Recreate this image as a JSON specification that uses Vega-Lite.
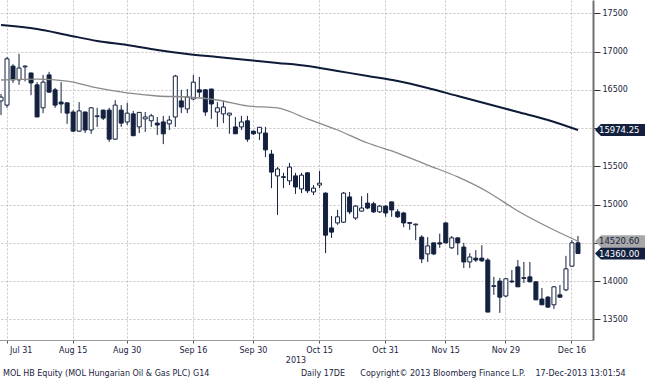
{
  "$schema": "https://vega.github.io/schema/vega-lite/v6.json",
  "width": 593,
  "height": 340,
  "autosize": {"type": "none"},
  "padding": {"left": 0, "top": 0, "right": 52, "bottom": 40},
  "background": "white",
  "config": {"view": {"stroke": null}},
  "title": {
    "text": "MOL HB Equity (MOL Hungarian Oil & Gas PLC) G14\u00a0\u00a0\u00a0\u00a0\u00a0\u00a0\u00a0\u00a0\u00a0\u00a0\u00a0\u00a0\u00a0\u00a0\u00a0\u00a0\u00a0\u00a0\u00a0\u00a0\u00a0\u00a0\u00a0\u00a0\u00a0\u00a0\u00a0\u00a0\u00a0\u00a0\u00a0\u00a0\u00a0\u00a0\u00a0\u00a0Daily 17DE\u00a0\u00a0\u00a0\u00a0\u00a0\u00a0Copyright\u00a9 2013 Bloomberg Finance L.P.\u00a0\u00a0\u00a0\u00a017-Dec-2013 13:01:54",
    "orient": "bottom",
    "anchor": "start",
    "font": "DejaVu Sans",
    "fontSize": 8,
    "fontWeight": "normal",
    "color": "#1a2440",
    "offset": 6,
    "dx": 3
  },
  "datasets": {
    "px": [
      {"d": "2013-07-30", "o": 16355, "h": 16445, "l": 16170, "c": 16405},
      {"d": "2013-07-31", "o": 16300, "h": 16930, "l": 16265, "c": 16905},
      {"d": "2013-08-01", "o": 16810, "h": 16835, "l": 16590, "c": 16630},
      {"d": "2013-08-02", "o": 16630, "h": 16970, "l": 16565, "c": 16785},
      {"d": "2013-08-05", "o": 16800, "h": 16820, "l": 16610, "c": 16810},
      {"d": "2013-08-06", "o": 16720, "h": 16725, "l": 16430, "c": 16590},
      {"d": "2013-08-07", "o": 16565, "h": 16600, "l": 16145, "c": 16145},
      {"d": "2013-08-08", "o": 16265, "h": 16695, "l": 16195, "c": 16600},
      {"d": "2013-08-09", "o": 16695, "h": 16735, "l": 16460, "c": 16470},
      {"d": "2013-08-12", "o": 16500, "h": 16525, "l": 16265, "c": 16300},
      {"d": "2013-08-13", "o": 16340, "h": 16600, "l": 16195, "c": 16315},
      {"d": "2013-08-14", "o": 16330, "h": 16330, "l": 16055, "c": 16195},
      {"d": "2013-08-15", "o": 16210, "h": 16235, "l": 15950, "c": 15960},
      {"d": "2013-08-16", "o": 15960, "h": 16340, "l": 15950, "c": 16225},
      {"d": "2013-08-21", "o": 16210, "h": 16215, "l": 15935, "c": 15975},
      {"d": "2013-08-22", "o": 15975, "h": 16275, "l": 15925, "c": 16265},
      {"d": "2013-08-23", "o": 16150, "h": 16265, "l": 16015, "c": 16160},
      {"d": "2013-08-26", "o": 16235, "h": 16240, "l": 16105, "c": 16130},
      {"d": "2013-08-27", "o": 16235, "h": 16265, "l": 15820, "c": 15855},
      {"d": "2013-08-28", "o": 15855, "h": 16365, "l": 15845, "c": 16300},
      {"d": "2013-08-29", "o": 16235, "h": 16300, "l": 16015, "c": 16065},
      {"d": "2013-08-30", "o": 16080, "h": 16330, "l": 16040, "c": 16195},
      {"d": "2013-09-02", "o": 16185, "h": 16225, "l": 15895, "c": 15900},
      {"d": "2013-09-03", "o": 16015, "h": 16210, "l": 15935, "c": 16205},
      {"d": "2013-09-04", "o": 16120, "h": 16210, "l": 15950, "c": 16145},
      {"d": "2013-09-05", "o": 16095, "h": 16185, "l": 16015, "c": 16160},
      {"d": "2013-09-06", "o": 16065, "h": 16145, "l": 15910, "c": 16040},
      {"d": "2013-09-09", "o": 16080, "h": 16160, "l": 15790, "c": 15925},
      {"d": "2013-09-10", "o": 16055, "h": 16160, "l": 15975, "c": 16105},
      {"d": "2013-09-11", "o": 16145, "h": 16695, "l": 16015, "c": 16680},
      {"d": "2013-09-12", "o": 16355, "h": 16500, "l": 16195, "c": 16275},
      {"d": "2013-09-13", "o": 16250, "h": 16510, "l": 16195, "c": 16405},
      {"d": "2013-09-16", "o": 16380, "h": 16695, "l": 16365, "c": 16600},
      {"d": "2013-09-17", "o": 16500, "h": 16670, "l": 16405, "c": 16470},
      {"d": "2013-09-18", "o": 16500, "h": 16510, "l": 16160, "c": 16210},
      {"d": "2013-09-19", "o": 16510, "h": 16515, "l": 16120, "c": 16315},
      {"d": "2013-09-20", "o": 16210, "h": 16340, "l": 16015, "c": 16265},
      {"d": "2013-09-23", "o": 16185, "h": 16355, "l": 16065, "c": 16275},
      {"d": "2013-09-24", "o": 16170, "h": 16200, "l": 15925, "c": 16195},
      {"d": "2013-09-25", "o": 16015, "h": 16145, "l": 15925, "c": 15925},
      {"d": "2013-09-26", "o": 16015, "h": 16160, "l": 15975, "c": 16080},
      {"d": "2013-09-27", "o": 16095, "h": 16160, "l": 15820, "c": 15855},
      {"d": "2013-09-30", "o": 15960, "h": 15965, "l": 15910, "c": 15925},
      {"d": "2013-10-01", "o": 15935, "h": 16015, "l": 15845, "c": 16010},
      {"d": "2013-10-02", "o": 15935, "h": 16015, "l": 15620, "c": 15715},
      {"d": "2013-10-03", "o": 15660, "h": 15715, "l": 15215, "c": 15425},
      {"d": "2013-10-04", "o": 15375, "h": 15490, "l": 14865, "c": 15465},
      {"d": "2013-10-07", "o": 15355, "h": 15415, "l": 15215, "c": 15365},
      {"d": "2013-10-08", "o": 15310, "h": 15545, "l": 15255, "c": 15490},
      {"d": "2013-10-09", "o": 15375, "h": 15415, "l": 15140, "c": 15230},
      {"d": "2013-10-10", "o": 15205, "h": 15415, "l": 15150, "c": 15385},
      {"d": "2013-10-11", "o": 15415, "h": 15425, "l": 15150, "c": 15180},
      {"d": "2013-10-14", "o": 15165, "h": 15255, "l": 15125, "c": 15215},
      {"d": "2013-10-15", "o": 15255, "h": 15440, "l": 15215, "c": 15280},
      {"d": "2013-10-16", "o": 15150, "h": 15160, "l": 14365, "c": 14600},
      {"d": "2013-10-17", "o": 14695, "h": 14850, "l": 14565, "c": 14640},
      {"d": "2013-10-18", "o": 14760, "h": 14930, "l": 14735, "c": 14840},
      {"d": "2013-10-21", "o": 14770, "h": 15165, "l": 14760, "c": 15150},
      {"d": "2013-10-22", "o": 15100, "h": 15165, "l": 14875, "c": 14905},
      {"d": "2013-10-24", "o": 14825, "h": 14995, "l": 14800, "c": 14980},
      {"d": "2013-10-25", "o": 14915, "h": 15110, "l": 14910, "c": 14955},
      {"d": "2013-10-28", "o": 15020, "h": 15150, "l": 14940, "c": 14955},
      {"d": "2013-10-29", "o": 15010, "h": 15035, "l": 14890, "c": 14905},
      {"d": "2013-10-30", "o": 14905, "h": 14995, "l": 14890, "c": 14980},
      {"d": "2013-10-31", "o": 14980, "h": 14990, "l": 14840, "c": 14890},
      {"d": "2013-11-04", "o": 15035, "h": 15040, "l": 14840, "c": 14930},
      {"d": "2013-11-05", "o": 14905, "h": 14940, "l": 14825, "c": 14840},
      {"d": "2013-11-06", "o": 14890, "h": 14905, "l": 14705, "c": 14760},
      {"d": "2013-11-07", "o": 14765, "h": 14770, "l": 14670, "c": 14755},
      {"d": "2013-11-08", "o": 14735, "h": 14750, "l": 14535, "c": 14745},
      {"d": "2013-11-11", "o": 14575, "h": 14600, "l": 14235, "c": 14290},
      {"d": "2013-11-12", "o": 14355, "h": 14575, "l": 14250, "c": 14460},
      {"d": "2013-11-13", "o": 14500, "h": 14500, "l": 14340, "c": 14355},
      {"d": "2013-11-14", "o": 14500, "h": 14620, "l": 14435, "c": 14485},
      {"d": "2013-11-15", "o": 14760, "h": 14765, "l": 14490, "c": 14500},
      {"d": "2013-11-18", "o": 14435, "h": 14590, "l": 14420, "c": 14565},
      {"d": "2013-11-19", "o": 14565, "h": 14570, "l": 14340, "c": 14500},
      {"d": "2013-11-20", "o": 14445, "h": 14500, "l": 14170, "c": 14250},
      {"d": "2013-11-21", "o": 14250, "h": 14365, "l": 14170, "c": 14315},
      {"d": "2013-11-22", "o": 14300, "h": 14405, "l": 14250, "c": 14275},
      {"d": "2013-11-25", "o": 14300, "h": 14470, "l": 14250, "c": 14265},
      {"d": "2013-11-26", "o": 14275, "h": 14300, "l": 13595, "c": 13595},
      {"d": "2013-11-27", "o": 13930, "h": 14055, "l": 13820, "c": 13940},
      {"d": "2013-11-28", "o": 14000, "h": 14040, "l": 13585, "c": 13790},
      {"d": "2013-11-29", "o": 13805, "h": 14040, "l": 13790, "c": 14030},
      {"d": "2013-12-02", "o": 14000, "h": 14145, "l": 13975, "c": 13990},
      {"d": "2013-12-03", "o": 14185, "h": 14275, "l": 13925, "c": 13925},
      {"d": "2013-12-04", "o": 14035, "h": 14250, "l": 13975, "c": 14045},
      {"d": "2013-12-05", "o": 14055, "h": 14250, "l": 13990, "c": 13990},
      {"d": "2013-12-06", "o": 13990, "h": 13995, "l": 13755, "c": 13755},
      {"d": "2013-12-09", "o": 13765, "h": 13910, "l": 13690, "c": 13690},
      {"d": "2013-12-10", "o": 13790, "h": 13805, "l": 13650, "c": 13660},
      {"d": "2013-12-11", "o": 13690, "h": 13935, "l": 13635, "c": 13925},
      {"d": "2013-12-12", "o": 13820, "h": 13950, "l": 13780, "c": 13790},
      {"d": "2013-12-13", "o": 13885, "h": 14330, "l": 13870, "c": 14160},
      {"d": "2013-12-16", "o": 14195, "h": 14535, "l": 14185, "c": 14500},
      {"d": "2013-12-17", "o": 14500, "h": 14590, "l": 14360, "c": 14360}
    ],
    "ma": [
      {"d": "2013-07-30", "s": "ma200", "v": 17347},
      {"d": "2013-08-07", "s": "ma200", "v": 17295},
      {"d": "2013-08-14", "s": "ma200", "v": 17217},
      {"d": "2013-08-23", "s": "ma200", "v": 17138},
      {"d": "2013-08-30", "s": "ma200", "v": 17086},
      {"d": "2013-09-06", "s": "ma200", "v": 17021},
      {"d": "2013-09-13", "s": "ma200", "v": 16968},
      {"d": "2013-09-20", "s": "ma200", "v": 16929},
      {"d": "2013-09-27", "s": "ma200", "v": 16890},
      {"d": "2013-10-04", "s": "ma200", "v": 16851},
      {"d": "2013-10-11", "s": "ma200", "v": 16811},
      {"d": "2013-10-18", "s": "ma200", "v": 16746},
      {"d": "2013-10-28", "s": "ma200", "v": 16681},
      {"d": "2013-11-05", "s": "ma200", "v": 16615},
      {"d": "2013-11-12", "s": "ma200", "v": 16524},
      {"d": "2013-11-19", "s": "ma200", "v": 16419},
      {"d": "2013-11-26", "s": "ma200", "v": 16315},
      {"d": "2013-12-03", "s": "ma200", "v": 16210},
      {"d": "2013-12-10", "s": "ma200", "v": 16106},
      {"d": "2013-12-17", "s": "ma200", "v": 15974.25},
      {"d": "2013-07-30", "s": "ma50", "v": 16628},
      {"d": "2013-08-07", "s": "ma50", "v": 16641},
      {"d": "2013-08-14", "s": "ma50", "v": 16615},
      {"d": "2013-08-23", "s": "ma50", "v": 16524},
      {"d": "2013-08-30", "s": "ma50", "v": 16459},
      {"d": "2013-09-06", "s": "ma50", "v": 16419},
      {"d": "2013-09-13", "s": "ma50", "v": 16406},
      {"d": "2013-09-20", "s": "ma50", "v": 16367},
      {"d": "2013-09-27", "s": "ma50", "v": 16289},
      {"d": "2013-10-04", "s": "ma50", "v": 16263},
      {"d": "2013-10-11", "s": "ma50", "v": 16119},
      {"d": "2013-10-18", "s": "ma50", "v": 15975},
      {"d": "2013-10-28", "s": "ma50", "v": 15805},
      {"d": "2013-11-05", "s": "ma50", "v": 15674},
      {"d": "2013-11-12", "s": "ma50", "v": 15517},
      {"d": "2013-11-19", "s": "ma50", "v": 15361},
      {"d": "2013-11-26", "s": "ma50", "v": 15165},
      {"d": "2013-12-03", "s": "ma50", "v": 14916},
      {"d": "2013-12-10", "s": "ma50", "v": 14707},
      {"d": "2013-12-17", "s": "ma50", "v": 14520.6}
    ],
    "tags": [
      {"d": "2013-12-17", "k": "ma200", "v": 15974.25, "t": "15974.25"},
      {"d": "2013-12-17", "k": "ma50", "v": 14520.6, "t": "14520.60"},
      {"d": "2013-12-17", "k": "px", "v": 14360, "t": "14360.00"}
    ]
  },
  "encoding": {
    "x": {
      "field": "d",
      "type": "ordinal",
      "scale": {
        "type": "band",
        "paddingInner": 0,
        "paddingOuter": 0,
        "range": [-2, 593],
        "domain": ["2013-07-30","2013-07-31","2013-08-01","2013-08-02","2013-08-05","2013-08-06","2013-08-07","2013-08-08","2013-08-09","2013-08-12","2013-08-13","2013-08-14","2013-08-15","2013-08-16","2013-08-21","2013-08-22","2013-08-23","2013-08-26","2013-08-27","2013-08-28","2013-08-29","2013-08-30","2013-09-02","2013-09-03","2013-09-04","2013-09-05","2013-09-06","2013-09-09","2013-09-10","2013-09-11","2013-09-12","2013-09-13","2013-09-16","2013-09-17","2013-09-18","2013-09-19","2013-09-20","2013-09-23","2013-09-24","2013-09-25","2013-09-26","2013-09-27","2013-09-30","2013-10-01","2013-10-02","2013-10-03","2013-10-04","2013-10-07","2013-10-08","2013-10-09","2013-10-10","2013-10-11","2013-10-14","2013-10-15","2013-10-16","2013-10-17","2013-10-18","2013-10-21","2013-10-22","2013-10-24","2013-10-25","2013-10-28","2013-10-29","2013-10-30","2013-10-31","2013-11-04","2013-11-05","2013-11-06","2013-11-07","2013-11-08","2013-11-11","2013-11-12","2013-11-13","2013-11-14","2013-11-15","2013-11-18","2013-11-19","2013-11-20","2013-11-21","2013-11-22","2013-11-25","2013-11-26","2013-11-27","2013-11-28","2013-11-29","2013-12-02","2013-12-03","2013-12-04","2013-12-05","2013-12-06","2013-12-09","2013-12-10","2013-12-11","2013-12-12","2013-12-13","2013-12-16","2013-12-17","2013-12-18","2013-12-19"]
      },
      "axis": {
        "values": ["2013-07-31","2013-08-15","2013-08-30","2013-09-16","2013-09-30","2013-10-15","2013-10-31","2013-11-15","2013-11-29","2013-12-16"],
        "labelExpr": "utcFormat(toDate(datum.value), '%b %d')",
        "title": "2013",
        "titleFont": "DejaVu Sans",
        "titleFontSize": 8,
        "titleFontWeight": "normal",
        "titleColor": "#1a2440",
        "titlePadding": 2,
        "labelFont": "DejaVu Sans",
        "labelFontSize": 8,
        "labelColor": "#1a2440",
        "labelAngle": 0,
        "labelPadding": 3,
        "labelFlush": 12,
        "labelFlushOffset": -3,
        "grid": true,
        "gridColor": "#c4c4c4",
        "gridDash": [2, 2],
        "gridWidth": 1,
        "domain": true,
        "domainColor": "#9a9a9a",
        "domainWidth": 1,
        "ticks": true,
        "tickSize": 3,
        "tickColor": "#555555"
      }
    }
  },
  "layer": [
    {
      "data": {"name": "px"},
      "mark": {"type": "rule", "color": "#13213f", "strokeWidth": 1, "clip": true},
      "encoding": {
        "y": {
          "field": "l",
          "type": "quantitative",
          "scale": {"domain": [13230, 17674], "nice": false, "zero": false},
          "axis": {
            "orient": "right",
            "values": [13500, 14000, 14500, 15000, 15500, 16000, 16500, 17000, 17500],
            "format": "d",
            "labelExpr": "datum.value == 16000 || datum.value == 14500 ? '' : datum.label",
            "title": null,
            "labelFont": "DejaVu Sans",
            "labelFontSize": 8,
            "labelColor": "#1a2440",
            "labelPadding": 2,
            "labelOverlap": false,
            "grid": true,
            "gridColor": "#c4c4c4",
            "gridDash": [2, 2],
            "tickSize": 7,
            "tickColor": "#333333",
            "domain": true,
            "domainColor": "#707070",
            "domainWidth": 2
          }
        },
        "y2": {"field": "h"}
      }
    },
    {
      "data": {"name": "px"},
      "mark": {"type": "bar", "width": 4, "stroke": "#13213f", "strokeWidth": 1, "clip": true},
      "encoding": {
        "y": {"field": "o", "type": "quantitative"},
        "y2": {"field": "c"},
        "fill": {"condition": {"test": "datum.c > datum.o", "value": "#ffffff"}, "value": "#13213f"}
      }
    },
    {
      "data": {"name": "ma"},
      "transform": [{"filter": "datum.s === 'ma50'"}],
      "mark": {"type": "line", "color": "#8a8a8a", "strokeWidth": 1.3, "interpolate": "monotone", "clip": true},
      "encoding": {"y": {"field": "v", "type": "quantitative"}}
    },
    {
      "data": {"name": "ma"},
      "transform": [{"filter": "datum.s === 'ma200'"}],
      "mark": {"type": "line", "color": "#0e1a38", "strokeWidth": 2, "interpolate": "monotone", "clip": true},
      "encoding": {"y": {"field": "v", "type": "quantitative"}}
    },
    {
      "data": {"name": "tags"},
      "mark": {"type": "point", "shape": "M0.254,0L0.343,-0.0896L1,-0.0896L1,0.0896L0.343,0.0896Z", "filled": true, "opacity": 1, "size": 17956, "strokeWidth": 0},
      "encoding": {
        "y": {"field": "v", "type": "quantitative"},
        "fill": {"field": "k", "type": "nominal", "scale": {"domain": ["ma200", "ma50", "px"], "range": ["#13213f", "#a8a8a8", "#13213f"]}, "legend": null}
      }
    },
    {
      "data": {"name": "tags"},
      "mark": {"type": "text", "align": "left", "baseline": "middle", "dx": 21, "font": "DejaVu Sans", "fontSize": 8.5},
      "encoding": {
        "y": {"field": "v", "type": "quantitative"},
        "text": {"field": "t"},
        "color": {"field": "k", "type": "nominal", "scale": {"domain": ["ma200", "ma50", "px"], "range": ["#ffffff", "#1a2440", "#ffffff"]}, "legend": null}
      }
    }
  ]
}
